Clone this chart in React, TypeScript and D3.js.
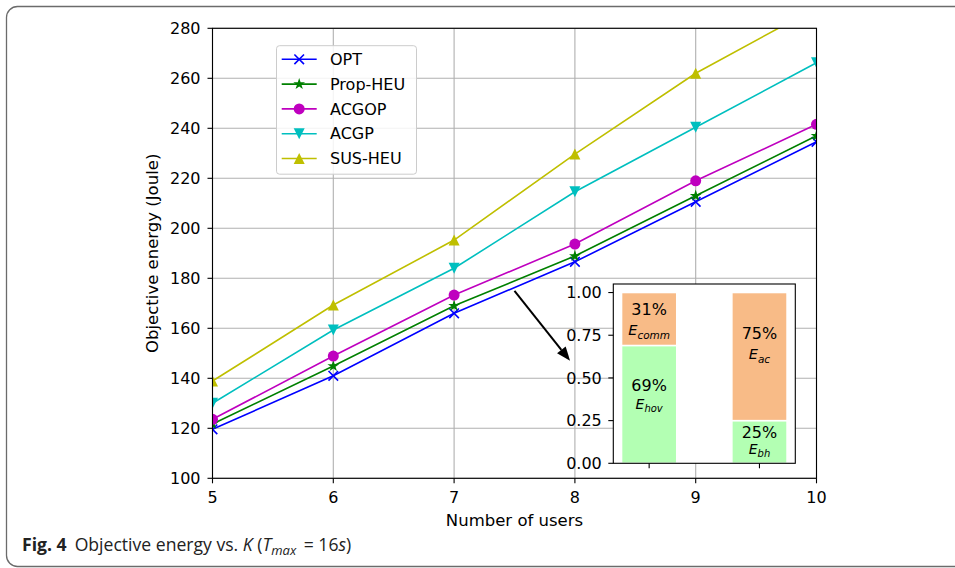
import React from "react";
import * as d3 from "d3";

// Number of users on the x axis
const users = [5, 6, 7, 8, 9, 10];

// Objective energy (Joule) per scheme
const optEnergy = [119.6, 141.0, 166.0, 186.6, 210.6, 234.6];
const propHeuEnergy = [121.7, 144.9, 169.0, 188.9, 213.0, 237.0];
const acgopEnergy = [123.6, 148.9, 173.3, 193.7, 219.0, 241.6];
const acgpEnergy = [130.0, 159.3, 184.0, 214.6, 240.4, 266.2];
const susHeuEnergy = [138.9, 169.3, 195.3, 229.7, 262.0, 288.3];

const yTicks = [100, 120, 140, 160, 180, 200, 220, 240, 260, 280];

// Energy breakdown shown in the inset (fractions of the total)
const insetGroups = [0, 1];
const lowerShare = [0.69, 0.25];
const upperShare = [0.31, 0.75];
const lowerName = ["hov", "bh"];
const upperName = ["comm", "ac"];
const insetTicks = [0, 0.25, 0.5, 0.75, 1.0];

// Where the percentage labels sit on the inset's y axis
const upperLabelAt = [0.9, 0.76];
const lowerLabelAt = [0.46, 0.18];

// Arrow pointing from the curves to the inset, in data units
const arrowFrom = [7.5, 175];
const arrowTo = [7.96, 147];

type Marker = "x" | "star" | "circle" | "tri_down" | "tri_up";

const series: { name: string; values: number[]; color: string; marker: Marker }[] = [
  { name: "OPT", values: optEnergy, color: "#0000ff", marker: "x" },
  { name: "Prop-HEU", values: propHeuEnergy, color: "#008000", marker: "star" },
  { name: "ACGOP", values: acgopEnergy, color: "#bf00bf", marker: "circle" },
  { name: "ACGP", values: acgpEnergy, color: "#00bfbf", marker: "tri_down" },
  { name: "SUS-HEU", values: susHeuEnergy, color: "#bfbf00", marker: "tri_up" },
];

const FONT = "'DejaVu Sans', sans-serif";
const W = 955;
const H = 568;

const plot = { left: 212.5, right: 816.5, top: 28.3, bottom: 478.3 };
const inset = { left: 613.3, right: 795.3, top: 284, bottom: 463.3 };

const x = d3.scaleLinear().domain([5, 10]).range([plot.left, plot.right]);
const y = d3.scaleLinear().domain([100, 280]).range([plot.bottom, plot.top]);

const ix = d3.scaleLinear().domain([-0.325, 1.325]).range([inset.left, inset.right]);
const iy = d3.scaleLinear().domain([0, 1.05]).range([inset.bottom, inset.top]);
const barWidth = 0.5;

function starPath(r: number): string {
  const pts: [number, number][] = [];
  const inner = r * 0.381966;
  for (let i = 0; i < 10; i++) {
    const rad = i % 2 === 0 ? r : inner;
    const a = -Math.PI / 2 + (i * Math.PI) / 5;
    pts.push([rad * Math.cos(a), rad * Math.sin(a)]);
  }
  return "M" + pts.map((p) => p.join(",")).join("L") + "Z";
}

function MarkerShape({ kind, cx, cy, color }: { kind: Marker; cx: number; cy: number; color: string }) {
  const s = 11;
  const h = s / 2;
  if (kind === "x") {
    const a = 4.8;
    return (
      <path
        d={`M${cx - a},${cy - a}L${cx + a},${cy + a}M${cx - a},${cy + a}L${cx + a},${cy - a}`}
        stroke={color}
        strokeWidth={1.6}
        fill="none"
      />
    );
  }
  if (kind === "circle") return <circle cx={cx} cy={cy} r={h} fill={color} />;
  if (kind === "star")
    return <path d={starPath(6.2)} transform={`translate(${cx},${cy})`} fill={color} />;
  if (kind === "tri_up")
    return <path d={`M${cx},${cy - h}L${cx - h},${cy + h}L${cx + h},${cy + h}Z`} fill={color} />;
  return <path d={`M${cx},${cy + h}L${cx - h},${cy - h}L${cx + h},${cy - h}Z`} fill={color} />;
}

export default function App() {
  const line = d3
    .line<number>()
    .x((_, i) => x(users[i]))
    .y((v) => y(v));

  const legendX = 276.5;
  const legendY = 45.7;
  const legendRow = 24.8;

  // arrow geometry
  const ax0 = x(arrowFrom[0]);
  const ay0 = y(arrowFrom[1]);
  const ax1 = x(arrowTo[0]);
  const ay1 = y(arrowTo[1]);
  const len = Math.hypot(ax1 - ax0, ay1 - ay0);
  const ux = (ax1 - ax0) / len;
  const uy = (ay1 - ay0) / len;
  const headL = 14;
  const headW = 5.5;
  const bx = ax1 - ux * headL;
  const by = ay1 - uy * headL;

  return (
    <svg
      width={W}
      height={H}
      style={{ position: "absolute", left: 0, top: 0, background: "#fff" }}
      fontFamily={FONT}
    >
      <defs>
        <clipPath id="plotClip">
          <rect x={plot.left} y={plot.top} width={plot.right - plot.left} height={plot.bottom - plot.top} />
        </clipPath>
      </defs>

      {/* figure frame */}
      <rect x={6.5} y={6.5} width={1100} height={560} rx={11} fill="none" stroke="#6b6b6b" strokeWidth={1.3} />

      {/* grid */}
      <g stroke="#b0b0b0" strokeWidth={1.1}>
        {users.map((u) => (
          <line key={"gx" + u} x1={x(u)} x2={x(u)} y1={plot.top} y2={plot.bottom} />
        ))}
        {yTicks.map((t) => (
          <line key={"gy" + t} x1={plot.left} x2={plot.right} y1={y(t)} y2={y(t)} />
        ))}
      </g>

      {/* series */}
      <g clipPath="url(#plotClip)">
        {series.map((s) => (
          <g key={s.name}>
            <path d={line(s.values) || ""} fill="none" stroke={s.color} strokeWidth={1.6} />
            {s.values.map((v, i) => (
              <MarkerShape key={i} kind={s.marker} cx={x(users[i])} cy={y(v)} color={s.color} />
            ))}
          </g>
        ))}
      </g>

      {/* axes frame */}
      <rect
        x={plot.left}
        y={plot.top}
        width={plot.right - plot.left}
        height={plot.bottom - plot.top}
        fill="none"
        stroke="#000"
        strokeWidth={1.1}
      />

      {/* x ticks */}
      {users.map((u) => (
        <g key={"xt" + u}>
          <line x1={x(u)} x2={x(u)} y1={plot.bottom} y2={plot.bottom + 5} stroke="#000" strokeWidth={1.1} />
          <text x={x(u)} y={502.5} textAnchor="middle" fontSize={16} fill="#000">
            {u}
          </text>
        </g>
      ))}
      {/* y ticks */}
      {yTicks.map((t) => (
        <g key={"yt" + t}>
          <line x1={plot.left - 5} x2={plot.left} y1={y(t)} y2={y(t)} stroke="#000" strokeWidth={1.1} />
          <text x={plot.left - 12} y={y(t)} dy="0.36em" textAnchor="end" fontSize={16} fill="#000">
            {t}
          </text>
        </g>
      ))}

      <text x={(plot.left + plot.right) / 2} y={525.5} textAnchor="middle" fontSize={16.5} fill="#000">
        Number of users
      </text>
      <text
        transform={`translate(158,${(plot.top + plot.bottom) / 2}) rotate(-90)`}
        textAnchor="middle"
        fontSize={16.5}
        fill="#000"
      >
        Objective energy (Joule)
      </text>

      {/* legend */}
      <rect
        x={legendX}
        y={legendY}
        width={140}
        height={128.5}
        rx={3}
        fill="#fff"
        fillOpacity={0.85}
        stroke="#cccccc"
        strokeWidth={1}
      />
      {series.map((s, i) => {
        const cy = legendY + 13.6 + i * legendRow;
        return (
          <g key={"lg" + s.name}>
            <line x1={281.7} x2={316.7} y1={cy} y2={cy} stroke={s.color} strokeWidth={1.6} />
            <MarkerShape kind={s.marker} cx={299.2} cy={cy} color={s.color} />
            <text x={330} y={cy} dy="0.36em" fontSize={16} fill="#000">
              {s.name}
            </text>
          </g>
        );
      })}

      {/* arrow */}
      <line x1={ax0} y1={ay0} x2={bx} y2={by} stroke="#000" strokeWidth={2} />
      <path
        d={`M${ax1},${ay1}L${bx - uy * headW},${by + ux * headW}L${bx + uy * headW},${by - ux * headW}Z`}
        fill="#000"
      />

      {/* inset */}
      <rect
        x={inset.left}
        y={inset.top}
        width={inset.right - inset.left}
        height={inset.bottom - inset.top}
        fill="#fff"
      />
      {insetGroups.map((g, i) => {
        const x0 = ix(g - barWidth / 2);
        const bw = ix(g + barWidth / 2) - x0;
        const lo = lowerShare[i];
        const up = upperShare[i];
        return (
          <g key={"bar" + g}>
            <rect x={x0} y={iy(lo)} width={bw} height={iy(0) - iy(lo)} fill="#b3ffb3" stroke="#fff" strokeWidth={1.5} />
            <rect
              x={x0}
              y={iy(lo + up)}
              width={bw}
              height={iy(lo) - iy(lo + up)}
              fill="#f8bb87"
              stroke="#fff"
              strokeWidth={1.5}
            />
          </g>
        );
      })}
      {/* inset annotations */}
      {insetGroups.map((g, i) => {
        const cx = ix(g);
        const lo = lowerShare[i];
        const up = upperShare[i];
        const upY = iy(upperLabelAt[i]);
        const loY = iy(lowerLabelAt[i]);
        const loGap = lo < 0.3 ? 17 : 20;
        return (
          <g key={"lab" + g} fill="#000">
            <text x={cx} y={upY} dy="0.36em" textAnchor="middle" fontSize={16}>
              {Math.round(up * 100)}%
            </text>
            <text x={cx} y={upY + 21.5} dy="0.3em" textAnchor="middle" fontSize={14.5} fontStyle="italic">
              E<tspan fontSize={10.5} dy={3.5}>{upperName[i]}</tspan>
            </text>
            <text x={cx} y={loY} dy="0.36em" textAnchor="middle" fontSize={16}>
              {Math.round(lo * 100)}%
            </text>
            <text x={cx} y={loY + loGap} dy="0.3em" textAnchor="middle" fontSize={14} fontStyle="italic">
              E<tspan fontSize={10} dy={3}>{lowerName[i]}</tspan>
            </text>
          </g>
        );
      })}
      <rect
        x={inset.left}
        y={inset.top}
        width={inset.right - inset.left}
        height={inset.bottom - inset.top}
        fill="none"
        stroke="#000"
        strokeWidth={1.1}
      />
      {insetTicks.map((t) => (
        <g key={"it" + t}>
          <line x1={inset.left - 5} x2={inset.left} y1={iy(t)} y2={iy(t)} stroke="#000" strokeWidth={1.1} />
          <text x={inset.left - 11.5} y={iy(t)} dy="0.36em" textAnchor="end" fontSize={16} fill="#000">
            {t.toFixed(2)}
          </text>
        </g>
      ))}
      {insetGroups.map((g) => (
        <line key={"ixt" + g} x1={ix(g)} x2={ix(g)} y1={inset.bottom} y2={inset.bottom + 5} stroke="#000" strokeWidth={1.1} />
      ))}

      {/* caption */}
      <text x={22} y={551} fontFamily="'Open Sans', 'Noto Sans', sans-serif" fontSize={17.6} fill="#222">
        <tspan fontWeight="bold">Fig. 4</tspan>
        <tspan dx={8}>Objective energy vs. </tspan>
        <tspan fontStyle="italic">K</tspan>
        <tspan> (</tspan>
        <tspan fontStyle="italic">T</tspan>
        <tspan fontStyle="italic" fontSize={13} dy={4}>max</tspan>
        <tspan dy={-4} dx={3}> =  16</tspan>
        <tspan fontStyle="italic">s</tspan>
        <tspan>)</tspan>
      </text>
    </svg>
  );
}
